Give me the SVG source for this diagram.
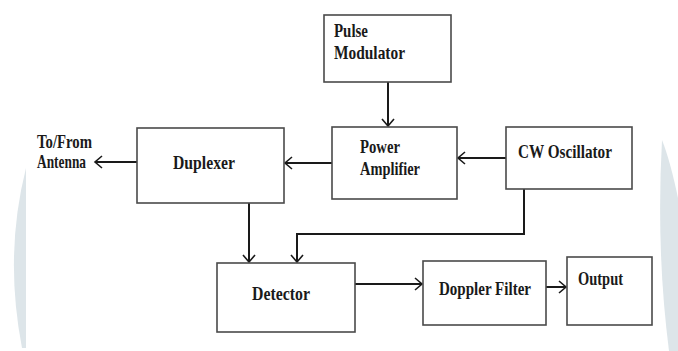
<svg xmlns="http://www.w3.org/2000/svg" width="678" height="351" viewBox="0 0 678 351">
<style>
.box{fill:#fff;stroke:#4a4a4a;stroke-width:1.6}
.lbl{font-family:"Liberation Serif","Times New Roman",serif;font-weight:bold;font-size:19px;fill:#1a1a1a}
.wire{fill:none;stroke:#1a1a1a;stroke-width:2}
.deco{fill:#dde5e9}
</style>
<defs>
<marker id="arr" viewBox="-9 -8 11 16" refX="0" refY="0" markerWidth="11" markerHeight="16" markerUnits="userSpaceOnUse" orient="auto">
<path d="M -7 -6 L 0 0 L -7 6" fill="none" stroke="#1a1a1a" stroke-width="1.6"/>
</marker>
</defs>
<rect width="678" height="351" fill="#fff"/>
<g id="background">
<path class="deco" d="M 26 168 L 26 348 L 22 348 Q 4 255 26 168 Z"/>
<path class="deco" d="M 662 140 Q 670 160 678 198 L 678 351 L 669 351 Q 656 250 662 140 Z"/>
</g>
<g id="connectors">
<line class="wire" x1="388" y1="82" x2="388" y2="126" marker-end="url(#arr)"/>
<line class="wire" x1="332" y1="163" x2="285" y2="163" marker-end="url(#arr)"/>
<line class="wire" x1="506" y1="158" x2="458" y2="158" marker-end="url(#arr)"/>
<line class="wire" x1="137" y1="162" x2="95" y2="162" marker-end="url(#arr)"/>
<line class="wire" x1="249" y1="203" x2="249" y2="262" marker-end="url(#arr)"/>
<polyline class="wire" points="524,189 524,234 297,234 297,262" marker-end="url(#arr)"/>
<line class="wire" x1="355" y1="284" x2="422" y2="284" marker-end="url(#arr)"/>
<line class="wire" x1="546" y1="287" x2="566" y2="287" marker-end="url(#arr)"/>
</g>
<g id="antenna">
<text class="lbl" x="37" y="148" textLength="55" lengthAdjust="spacingAndGlyphs">To/From</text>
<text class="lbl" x="37" y="168" textLength="49" lengthAdjust="spacingAndGlyphs">Antenna</text>
</g>
<g id="pulse-modulator">
<rect class="box" x="324" y="15" width="127" height="67"/>
<text class="lbl" x="334" y="37" textLength="34" lengthAdjust="spacingAndGlyphs">Pulse</text>
<text class="lbl" x="334" y="59" textLength="71" lengthAdjust="spacingAndGlyphs">Modulator</text>
</g>
<g id="duplexer">
<rect class="box" x="137" y="128" width="147" height="75"/>
<text class="lbl" x="173" y="169" textLength="62" lengthAdjust="spacingAndGlyphs">Duplexer</text>
</g>
<g id="power-amplifier">
<rect class="box" x="332" y="127" width="125" height="72"/>
<text class="lbl" x="360" y="153" textLength="40" lengthAdjust="spacingAndGlyphs">Power</text>
<text class="lbl" x="360" y="175" textLength="60" lengthAdjust="spacingAndGlyphs">Amplifier</text>
</g>
<g id="cw-oscillator">
<rect class="box" x="506" y="127" width="126" height="62"/>
<text class="lbl" x="518" y="158" textLength="94" lengthAdjust="spacingAndGlyphs">CW Oscillator</text>
</g>
<g id="detector">
<rect class="box" x="217" y="263" width="138" height="69"/>
<text class="lbl" x="252" y="300" textLength="58" lengthAdjust="spacingAndGlyphs">Detector</text>
</g>
<g id="doppler-filter">
<rect class="box" x="423" y="261" width="123" height="64"/>
<text class="lbl" x="439" y="295" textLength="92" lengthAdjust="spacingAndGlyphs">Doppler Filter</text>
</g>
<g id="output">
<rect class="box" x="567" y="257" width="85" height="68"/>
<text class="lbl" x="578" y="285" textLength="45" lengthAdjust="spacingAndGlyphs">Output</text>
</g>
</svg>
